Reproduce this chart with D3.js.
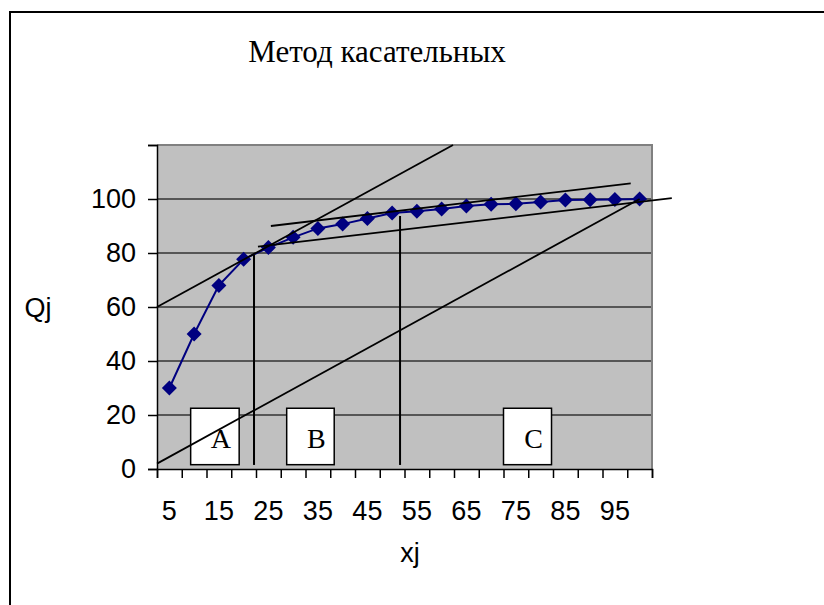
<!DOCTYPE html>
<html>
<head>
<meta charset="utf-8">
<script src="https://cdn.jsdelivr.net/npm/d3@7"></script>
<style>
  body { margin: 0; background: #fff; }
  svg text { fill: #000; }
  .tick text { font-family: Arial, "Liberation Sans", sans-serif; font-size: 27px; }
</style>
</head>
<body>
<div id="chart"></div>
<script>
// values
const categories = [5, 10, 15, 20, 25, 30, 35, 40, 45, 50, 55, 60, 65, 70, 75, 80, 85, 90, 95, 100];
const qValues = [30, 50, 68, 77.7, 82, 85.8, 89.1, 90.7, 92.8, 94.8, 95.5, 96.3, 97.4, 98.1, 98.2, 98.9, 99.6, 99.7, 99.8, 100];
const xLabels = [5, 15, 25, 35, 45, 55, 65, 75, 85, 95];
const yTicks = [0, 20, 40, 60, 80, 100, 120];

// tangent lines drawn over the chart (in data units)
const tangentLines = [
  { x1: 2.5, y1: 60, x2: 62.3, y2: 120 },
  { x1: 25.5, y1: 90, x2: 98.2, y2: 105.8 },
  { x1: 22.9, y1: 82.4, x2: 106.5, y2: 100.3 },
  { x1: 2.5, y1: 2, x2: 100, y2: 100 }
];
const dividers = [ { x: 22.1, top: 79.3 }, { x: 51.6, top: 93.7 } ];
const zones = [
  { label: "A", x0: 9.3, x1: 19.1 },
  { label: "B", x0: 28.7, x1: 38.3 },
  { label: "C", x0: 72.5, x1: 82.2 }
];

const W = 824, H = 605;
const plot = { left: 157, right: 652, top: 145, bottom: 469 };

const svg = d3.select("#chart").append("svg")
    .attr("width", W)
    .attr("height", H);

// chart area border (runs off the right/bottom edge)
svg.append("rect")
    .attr("x", 10).attr("y", 12)
    .attr("width", 900).attr("height", 700)
    .attr("fill", "#fff")
    .attr("stroke", "#000")
    .attr("stroke-width", 2);

svg.append("text")
    .attr("x", 377).attr("y", 62)
    .attr("text-anchor", "middle")
    .style("font-family", "'Liberation Serif', 'Times New Roman', serif")
    .style("font-size", "31px")
    .text("Метод касательных");

// scales
let xBand = d3.scaleBand()
    .domain(categories)
    .range([plot.left, plot.right])
    .paddingInner(0).paddingOuter(0);

let xLin = d3.scaleLinear()
    .domain([2.5, 102.5])
    .range([plot.left, plot.right]);

let yScale = d3.scaleLinear()
    .domain([0, 120])
    .range([plot.bottom, plot.top]);

// plot background
svg.append("rect")
    .attr("x", plot.left).attr("y", plot.top)
    .attr("width", plot.right - plot.left)
    .attr("height", plot.bottom - plot.top)
    .attr("fill", "#c0c0c0");

// gridlines
svg.append("g")
    .selectAll("line")
    .data(yTicks.slice(1, -1))
    .enter().append("line")
    .attr("x1", plot.left).attr("x2", plot.right)
    .attr("y1", d => yScale(d)).attr("y2", d => yScale(d))
    .attr("stroke", "#333")
    .attr("stroke-width", 1.6);

// plot border top/right
svg.append("path")
    .attr("d", `M${plot.left},${plot.top}H${plot.right}V${plot.bottom}`)
    .attr("fill", "none")
    .attr("stroke", "#808080")
    .attr("stroke-width", 2);

// y axis
svg.append("g")
    .attr("transform", `translate(${plot.left},0)`)
    .call(d3.axisLeft(yScale).tickValues(yTicks).tickSize(9).tickPadding(12)
        .tickFormat(d => d === 120 ? "" : d))
    .call(g => g.selectAll("line, .domain").attr("stroke", "#000").attr("stroke-width", 1.5));

// x axis: ticks on category boundaries, labels every other category
let bounds = d3.range(categories.length + 1).map(i => 2.5 + i * 5);
svg.append("g")
    .attr("transform", `translate(0,${plot.bottom})`)
    .call(d3.axisBottom(xLin).tickValues(bounds).tickSize(9).tickFormat(""))
    .call(g => g.selectAll("line, .domain").attr("stroke", "#000").attr("stroke-width", 1.5));

svg.append("g")
    .attr("transform", `translate(0,${plot.bottom})`)
    .call(d3.axisBottom(xBand).tickValues(xLabels).tickSize(0).tickPadding(32))
    .call(g => g.select(".domain").remove());

// axis titles
svg.append("text")
    .attr("x", 38).attr("y", 317)
    .attr("text-anchor", "middle")
    .style("font-family", "Arial, 'Liberation Sans', sans-serif")
    .style("font-size", "27px")
    .text("Qj");

svg.append("text")
    .attr("x", 410).attr("y", 562)
    .attr("text-anchor", "middle")
    .style("font-family", "Arial, 'Liberation Sans', sans-serif")
    .style("font-size", "27px")
    .text("xj");

// data series
let cx = d => xBand(d) + xBand.bandwidth() / 2;
let series = categories.map((c, i) => ({ x: c, q: qValues[i] }));

svg.append("path")
    .datum(series)
    .attr("fill", "none")
    .attr("stroke", "#000080")
    .attr("stroke-width", 2)
    .attr("d", d3.line().x(d => cx(d.x)).y(d => yScale(d.q)));

svg.selectAll(".pt")
    .data(series)
    .enter().append("path")
    .attr("class", "pt")
    .attr("transform", d => `translate(${cx(d.x)},${yScale(d.q)})`)
    .attr("d", "M0,-7.5L7.5,0L0,7.5L-7.5,0Z")
    .attr("fill", "#000080");

// zone boxes
svg.selectAll(".zone")
    .data(zones)
    .enter().append("rect")
    .attr("class", "zone")
    .attr("x", d => xLin(d.x0))
    .attr("y", yScale(22.5))
    .attr("width", d => xLin(d.x1) - xLin(d.x0))
    .attr("height", yScale(1.6) - yScale(22.5))
    .attr("fill", "#fff")
    .attr("stroke", "#000")
    .attr("stroke-width", 1.5);

svg.selectAll(".zoneLabel")
    .data(zones)
    .enter().append("text")
    .attr("class", "zoneLabel")
    .attr("x", d => (xLin(d.x0) + xLin(d.x1)) / 2 + 6)
    .attr("y", yScale(7.9))
    .attr("text-anchor", "middle")
    .style("font-family", "'Liberation Serif', 'Times New Roman', serif")
    .style("font-size", "28px")
    .text(d => d.label);

// vertical dividers
svg.selectAll(".divider")
    .data(dividers)
    .enter().append("line")
    .attr("class", "divider")
    .attr("x1", d => xLin(d.x)).attr("x2", d => xLin(d.x))
    .attr("y1", d => yScale(d.top)).attr("y2", yScale(1.5))
    .attr("stroke", "#000")
    .attr("stroke-width", 2);

// tangents
svg.selectAll(".tangent")
    .data(tangentLines)
    .enter().append("line")
    .attr("class", "tangent")
    .attr("x1", d => xLin(d.x1)).attr("y1", d => yScale(d.y1))
    .attr("x2", d => xLin(d.x2)).attr("y2", d => yScale(d.y2))
    .attr("stroke", "#000")
    .attr("stroke-width", 1.8);
</script>
</body>
</html>
